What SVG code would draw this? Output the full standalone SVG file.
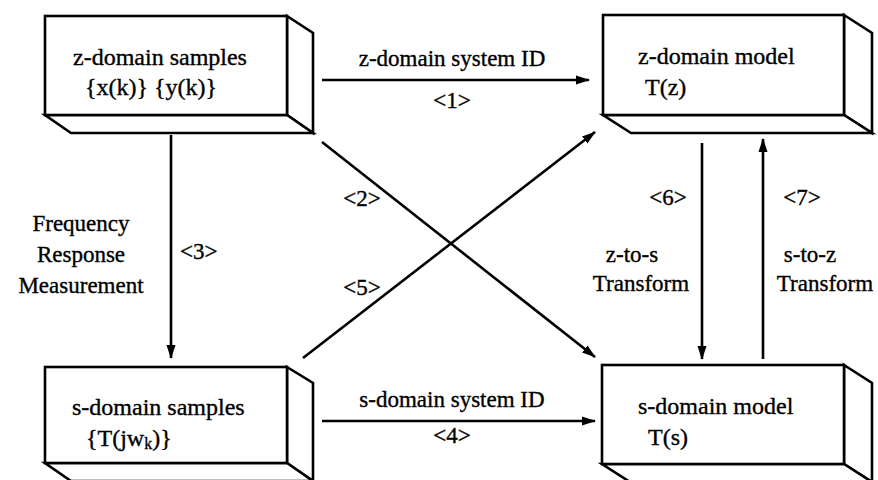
<svg xmlns="http://www.w3.org/2000/svg" width="878" height="480" viewBox="0 0 878 480">
<style>
  .box { fill: #ffffff; stroke: #000000; stroke-width: 2.6; stroke-linejoin: miter; }
  text { font-family: 'Liberation Serif', 'DejaVu Serif', 'Times New Roman', serif; fill: #000000; stroke: #000000; stroke-width: 0.35; }
  .t { font-size: 24px; }
  .lbl { font-size: 23px; }
  .c { text-anchor: middle; }
  .ln { fill: none; stroke: #000000; stroke-width: 2.6; }
</style>
<defs>
  <marker id="ah" viewBox="0 0 14 10" refX="13" refY="5" markerWidth="14" markerHeight="10" markerUnits="userSpaceOnUse" orient="auto">
    <path d="M0,0.5 L14,5 L0,9.5 Z" fill="#000000"/>
  </marker>
</defs>
<rect width="878" height="480" fill="#ffffff"/>

<g id="z-samples">
  <polygon class="box" points="287,16 313,33 313,133 287,115"/>
  <polygon class="box" points="45,115 287,115 313,133 71,133"/>
  <rect class="box" x="45" y="16" width="242" height="99"/>
  <text class="t" x="73" y="65" font-family="Liberation Serif, serif">z-domain samples</text>
  <text class="t" x="85" y="95" font-family="Liberation Serif, serif">{x(k)} {y(k)}</text>
</g>

<g id="z-model">
  <polygon class="box" points="844,15 872,33 872,133 844,115"/>
  <polygon class="box" points="603,115 844,115 872,133 631,133"/>
  <rect class="box" x="603" y="15" width="241" height="100"/>
  <text class="t" x="638" y="64">z-domain model</text>
  <text class="t" x="645" y="95">T(z)</text>
</g>

<g id="s-samples">
  <polygon class="box" points="287,367 313,383 313,481 287,463"/>
  <polygon class="box" points="45,463 287,463 313,481 71,481"/>
  <rect class="box" x="45" y="367" width="242" height="96"/>
  <text class="t" x="72" y="415">s-domain samples</text>
  <text class="t" x="86" y="446">{T(jw<tspan font-size="16" dy="3">k</tspan><tspan dy="-3">)}</tspan></text>
</g>

<g id="s-model">
  <polygon class="box" points="844,365 872,383 872,482 844,464"/>
  <polygon class="box" points="602,464 844,464 872,482 630,482"/>
  <rect class="box" x="602" y="365" width="242" height="99"/>
  <text class="t" x="638" y="414">s-domain model</text>
  <text class="t" x="648" y="445">T(s)</text>
</g>

<g id="connectors">
  <line class="ln" x1="322" y1="80" x2="589" y2="80" marker-end="url(#ah)"/>
  <line class="ln" x1="322" y1="421" x2="595" y2="421" marker-end="url(#ah)"/>
  <line class="ln" x1="171" y1="135" x2="171" y2="358" marker-end="url(#ah)"/>
  <line class="ln" x1="322" y1="142" x2="595" y2="357" marker-end="url(#ah)"/>
  <line class="ln" x1="303" y1="358" x2="595" y2="132" marker-end="url(#ah)"/>
  <line class="ln" x1="702" y1="143" x2="702" y2="359" marker-end="url(#ah)"/>
  <line class="ln" x1="763" y1="359" x2="763" y2="139" marker-end="url(#ah)"/>

  <text class="lbl c" x="452" y="66">z-domain system ID</text>
  <text class="lbl c" x="452" y="108">&lt;1&gt;</text>
  <text class="lbl c" x="452" y="407">s-domain system ID</text>
  <text class="lbl c" x="452" y="443">&lt;4&gt;</text>
  <text class="lbl c" x="362" y="206">&lt;2&gt;</text>
  <text class="lbl c" x="362" y="295">&lt;5&gt;</text>
  <text class="lbl" x="180" y="259">&lt;3&gt;</text>
  <text class="lbl c" x="81" y="231">Frequency</text>
  <text class="lbl c" x="81" y="262">Response</text>
  <text class="lbl c" x="81" y="293">Measurement</text>
  <text class="lbl c" x="668" y="205">&lt;6&gt;</text>
  <text class="lbl c" x="802" y="205">&lt;7&gt;</text>
  <text class="lbl c" x="632" y="262">z-to-s</text>
  <text class="lbl c" x="641" y="291">Transform</text>
  <text class="lbl c" x="810" y="262">s-to-z</text>
  <text class="lbl c" x="825" y="291">Transform</text>
</g>
</svg>
